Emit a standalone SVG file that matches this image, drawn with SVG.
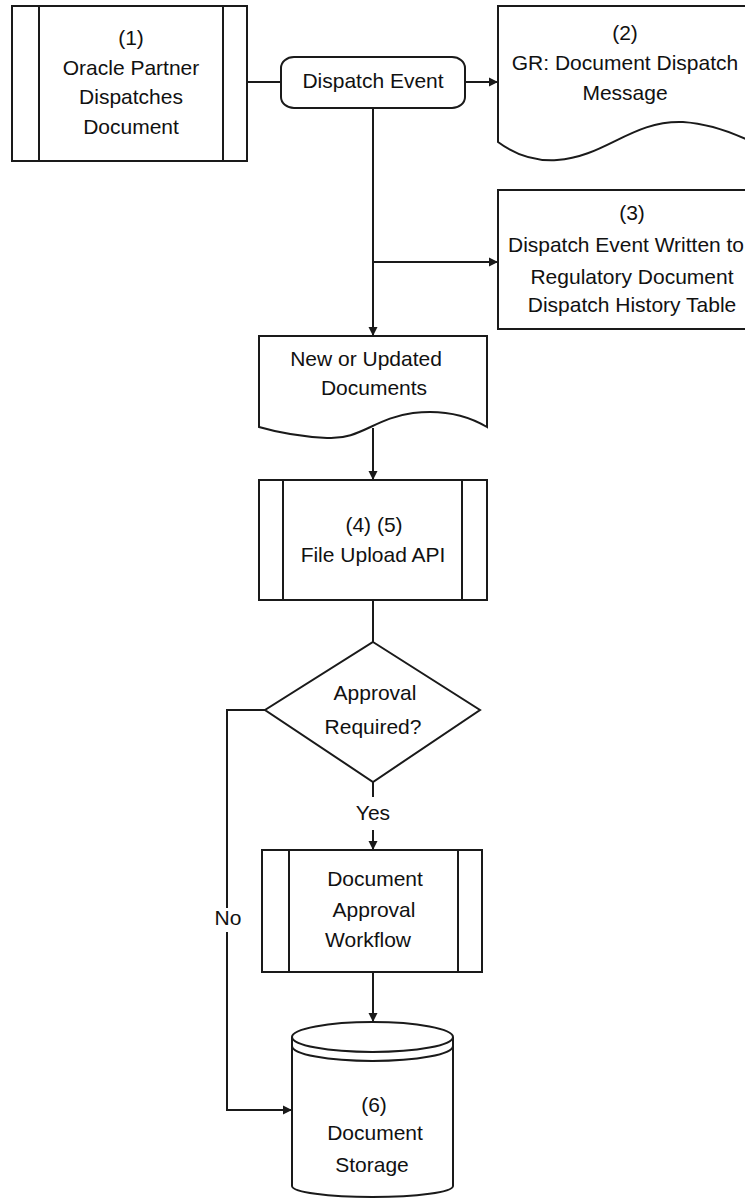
<svg xmlns="http://www.w3.org/2000/svg" width="745" height="1198" viewBox="0 0 745 1198">
<style>
.s{fill:#fff;stroke:#1a1a1a;stroke-width:2}
.l{fill:none;stroke:#1a1a1a;stroke-width:2}
text{font-family:"Liberation Sans",Arial,sans-serif;font-size:21px;fill:#111;text-anchor:middle}
</style>
<defs>
<marker id="ah" viewBox="0 0 10 10" refX="10" refY="5" markerWidth="9" markerHeight="10" markerUnits="userSpaceOnUse" orient="auto">
<path d="M0,0 L10,5 L0,10 z" fill="#1a1a1a"/>
</marker>
</defs>
<rect width="745" height="1198" fill="#fff"/>
<g id="connectors">
<path class="l" d="M247,82 H281"/>
<path class="l" d="M465,82 H498" marker-end="url(#ah)"/>
<path class="l" d="M373,108 V336" marker-end="url(#ah)"/>
<path class="l" d="M373,262 H498" marker-end="url(#ah)"/>
<path class="l" d="M373,428 V480" marker-end="url(#ah)"/>
<path class="l" d="M373,600 V642"/>
<path class="l" d="M373,782 V797"/>
<path class="l" d="M373,830 V850" marker-end="url(#ah)"/>
<path class="l" d="M265,710 H227 V908"/>
<path class="l" d="M227,932 V1110 H292" marker-end="url(#ah)"/>
<path class="l" d="M373,972 V1022" marker-end="url(#ah)"/>
<text x="373" y="820">Yes</text>
<text x="228" y="925">No</text>
</g>
<g id="n1">
<rect class="s" x="12" y="6" width="235" height="155"/>
<path class="l" d="M39,6 V161 M223,6 V161"/>
<text x="131" y="45">(1)</text>
<text x="131" y="75">Oracle Partner</text>
<text x="131" y="104">Dispatches</text>
<text x="131" y="134">Document</text>
</g>
<g id="dispatch-event">
<rect class="s" x="281" y="57" width="184" height="51" rx="13" ry="11"/>
<text x="373" y="88">Dispatch Event</text>
</g>
<g id="n2">
<path class="s" d="M760,6 H498 V142 Q525,162 557,160 C605,157 632,120 683,122 Q718,124 760,146"/>
<text x="625" y="40">(2)</text>
<text x="625" y="70">GR: Document Dispatch</text>
<text x="625" y="100">Message</text>
</g>
<g id="n3">
<rect class="s" x="498" y="190" width="270" height="139"/>
<text x="632" y="220">(3)</text>
<text x="626" y="252" textLength="236" lengthAdjust="spacingAndGlyphs">Dispatch Event Written to</text>
<text x="632" y="284">Regulatory Document</text>
<text x="632" y="312">Dispatch History Table</text>
</g>
<g id="docs">
<path class="s" d="M259,336 H487 V427 Q455,408 413,413 C375,418 360,440 327,438 Q290,436 259,427 Z"/>
<text x="366" y="366">New or Updated</text>
<text x="374" y="395">Documents</text>
</g>
<g id="n45">
<rect class="s" x="259" y="480" width="228" height="120"/>
<path class="l" d="M283,480 V600 M462,480 V600"/>
<text x="374" y="532">(4) (5)</text>
<text x="373" y="562">File Upload API</text>
</g>
<g id="decision">
<polygon class="s" points="373,642 480,710 373,782 265,710"/>
<text x="375" y="700">Approval</text>
<text x="373" y="734">Required?</text>
</g>
<g id="workflow">
<rect class="s" x="262" y="850" width="220" height="122"/>
<path class="l" d="M289,850 V972 M458,850 V972"/>
<text x="375" y="886">Document</text>
<text x="374" y="917">Approval</text>
<text x="368" y="947">Workflow</text>
</g>
<g id="n6">
<path class="s" d="M292,1037 V1186 A80.5,11 0 0 0 453,1186 V1037"/>
<ellipse class="s" cx="372.5" cy="1037" rx="80.5" ry="15"/>
<path class="l" d="M292,1046 A80.5,15 0 0 0 453,1046"/>
<text x="374" y="1112">(6)</text>
<text x="375" y="1140">Document</text>
<text x="372" y="1172">Storage</text>
</g>
</svg>
